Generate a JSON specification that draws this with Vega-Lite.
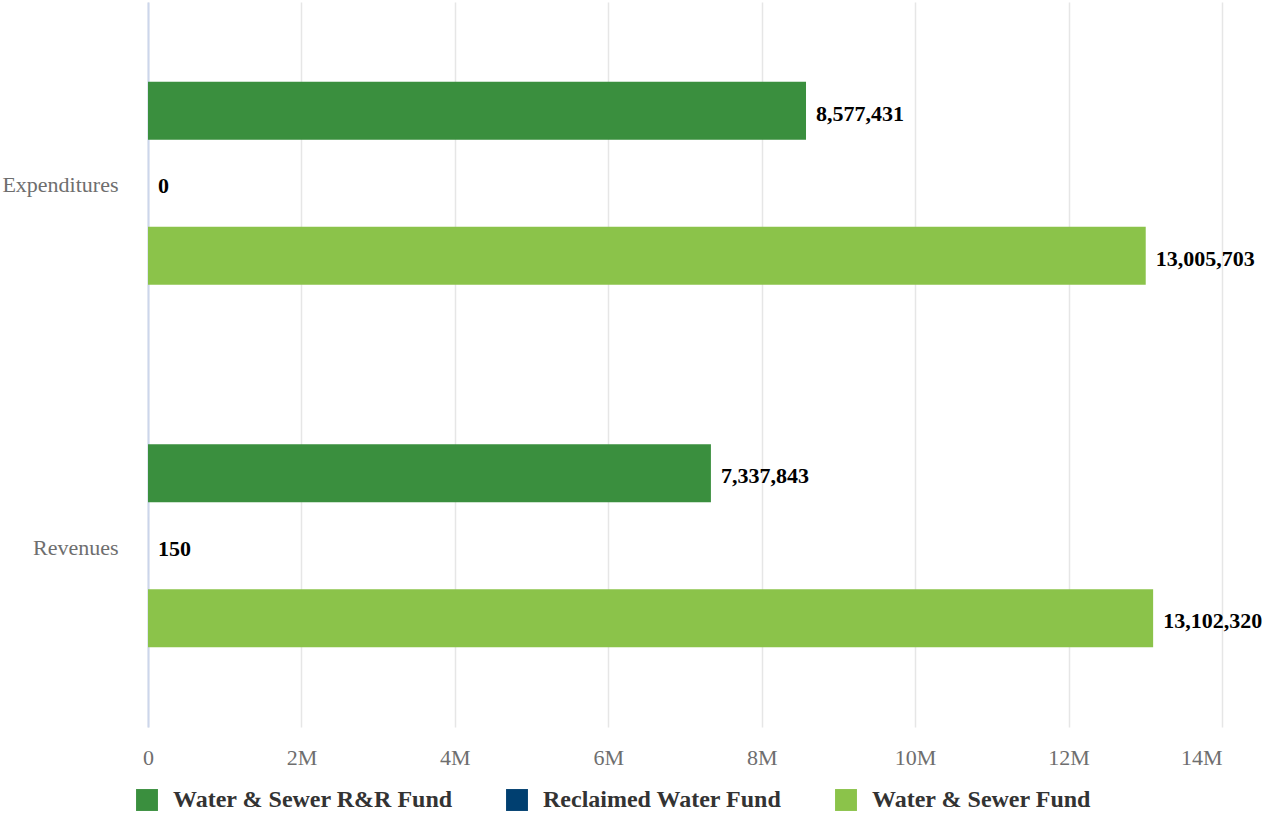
{
  "$schema": "https://vega.github.io/schema/vega-lite/v6.json",
  "autosize": {"type": "none"},
  "width": 1074,
  "height": 725,
  "padding": {"left": 148, "top": 2, "right": 43, "bottom": 88},
  "background": "white",
  "data": {
    "values": [
      {"category": "Expenditures", "fund": "Water & Sewer R&R Fund", "amount": 8577431},
      {"category": "Expenditures", "fund": "Reclaimed Water Fund", "amount": 0},
      {"category": "Expenditures", "fund": "Water & Sewer Fund", "amount": 13005703},
      {"category": "Revenues", "fund": "Water & Sewer R&R Fund", "amount": 7337843},
      {"category": "Revenues", "fund": "Reclaimed Water Fund", "amount": 150},
      {"category": "Revenues", "fund": "Water & Sewer Fund", "amount": 13102320}
    ]
  },
  "config": {
    "view": {"stroke": null},
    "font": "Liberation Serif"
  },
  "encoding": {
    "y": {
      "field": "category",
      "type": "nominal",
      "sort": ["Expenditures", "Revenues"],
      "title": null,
      "scale": {"paddingInner": 0.4, "paddingOuter": 0.2},
      "axis": {
        "labelFont": "Liberation Serif",
        "labelFontSize": 22,
        "labelColor": "#6e6e6e",
        "labelPadding": 30,
        "labelOffset": 2,
        "ticks": false,
        "domainColor": "#ccd6eb",
        "domainWidth": 2,
        "grid": false
      }
    },
    "yOffset": {
      "field": "fund",
      "type": "nominal",
      "sort": ["Water & Sewer R&R Fund", "Reclaimed Water Fund", "Water & Sewer Fund"],
      "scale": {"paddingInner": 0.2, "paddingOuter": 0.1}
    },
    "x": {
      "field": "amount",
      "type": "quantitative",
      "title": null,
      "scale": {"domain": [0, 14000000], "nice": false},
      "axis": {
        "values": [0, 2000000, 4000000, 6000000, 8000000, 10000000, 12000000, 14000000],
        "labelExpr": "datum.value == 0 ? '0' : (datum.value / 1000000) + 'M'",
        "labelFlush": false,
        "labelAlign": {
          "condition": {"test": "datum.value == 14000000", "value": "right"},
          "value": "center"
        },
        "labelFont": "Liberation Serif",
        "labelFontSize": 22,
        "labelColor": "#6e6e6e",
        "labelPadding": 20,
        "ticks": false,
        "domain": false,
        "grid": true,
        "gridColor": "#e6e6e6",
        "gridWidth": 1.5
      }
    }
  },
  "layer": [
    {
      "mark": {"type": "bar"},
      "encoding": {
        "color": {
          "field": "fund",
          "type": "nominal",
          "sort": ["Water & Sewer R&R Fund", "Reclaimed Water Fund", "Water & Sewer Fund"],
          "scale": {
            "domain": ["Water & Sewer R&R Fund", "Reclaimed Water Fund", "Water & Sewer Fund"],
            "range": ["#3a8f3e", "#003f70", "#8bc34a"]
          },
          "legend": {
            "title": null,
            "orient": "none",
            "legendX": -13,
            "legendY": 786,
            "direction": "horizontal",
            "symbolType": "square",
            "symbolSize": 480,
            "symbolStrokeWidth": 0,
            "labelFont": "Liberation Serif",
            "labelFontSize": 24,
            "labelFontWeight": "bold",
            "labelColor": "#333333",
            "labelLimit": 400,
            "labelOffset": 14,
            "columnPadding": 52
          }
        }
      }
    },
    {
      "mark": {
        "type": "text",
        "align": "left",
        "baseline": "middle",
        "dx": 10,
        "dy": 3,
        "font": "Liberation Serif",
        "fontSize": 22,
        "fontWeight": "bold",
        "color": "#000000"
      },
      "encoding": {
        "text": {"field": "amount", "type": "quantitative", "format": ","}
      }
    }
  ]
}
